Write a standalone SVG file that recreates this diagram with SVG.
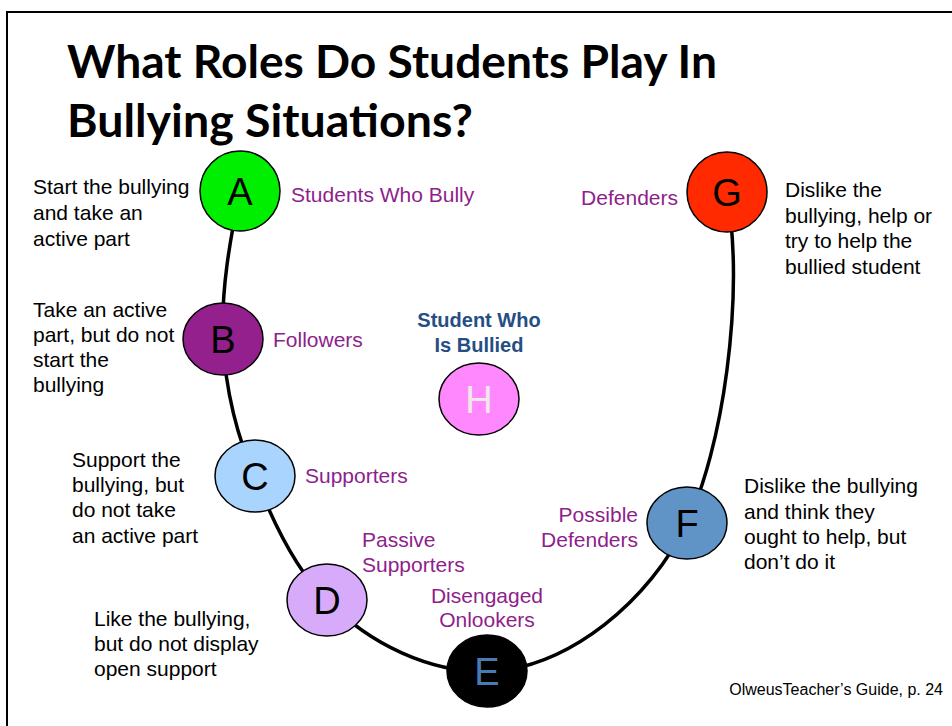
<svg xmlns="http://www.w3.org/2000/svg" width="952" height="726" viewBox="0 0 952 726">
<style>
.title{font-family:Lato,"Open Sans","Liberation Sans",sans-serif;font-weight:700;font-size:46px;fill:#000}
.desc{font-family:"Liberation Sans",Arial,sans-serif;font-size:21px;fill:#000}
.role{font-family:"Liberation Sans",Arial,sans-serif;font-size:21px;fill:#8E1E8C}
.letter{font-family:"Liberation Sans",Arial,sans-serif;font-size:38px;text-anchor:middle}
.node{stroke:#000;stroke-width:1.5}
.conn{fill:none;stroke:#000;stroke-width:3.5}
</style>
<rect x="0" y="0" width="952" height="726" fill="#fff"/>
<path d="M7 726 V12 H952" fill="none" stroke="#000" stroke-width="2"/>
<text class="title" x="67" y="78" textLength="650" lengthAdjust="spacingAndGlyphs">What Roles Do Students Play In</text>
<text class="title" x="67" y="137" textLength="406" lengthAdjust="spacingAndGlyphs">Bullying Situations?</text>
<g id="connectors">
<path class="conn" d="M240 191 C230 240 221 290 223 339 C225 390 238 440 255 476 C272 520 295 570 327 600 C370 645 430 672 487 672 C570 668 650 600 687 523 C722 450 745 300 727 192"/>
</g>
<g id="A">
<circle class="node" cx="240" cy="191" r="40" fill="#00EE00"/>
<text class="letter" x="240" y="205">A</text>
<text class="role" x="291" y="202">Students Who Bully</text>
<text class="desc" x="33" y="194">Start the bullying</text>
<text class="desc" x="33" y="220">and take an</text>
<text class="desc" x="33" y="246">active part</text>
</g>
<g id="B">
<ellipse class="node" cx="223" cy="339" rx="40" ry="36" fill="#93208C"/>
<text class="letter" x="223" y="353">B</text>
<text class="role" x="273" y="347">Followers</text>
<text class="desc" x="33" y="317">Take an active</text>
<text class="desc" x="33" y="342">part, but do not</text>
<text class="desc" x="33" y="367">start the</text>
<text class="desc" x="33" y="392">bullying</text>
</g>
<g id="C">
<ellipse class="node" cx="255" cy="476" rx="40" ry="36" fill="#A9D4FE"/>
<text class="letter" x="255" y="490">C</text>
<text class="role" x="305" y="483">Supporters</text>
<text class="desc" x="72" y="467">Support the</text>
<text class="desc" x="72" y="492">bullying, but</text>
<text class="desc" x="72" y="517">do not take</text>
<text class="desc" x="72" y="543">an active part</text>
</g>
<g id="D">
<ellipse class="node" cx="327" cy="600" rx="40" ry="36" fill="#D8ABFA"/>
<text class="letter" x="327" y="614">D</text>
<text class="role" x="362" y="547">Passive</text>
<text class="role" x="362" y="572">Supporters</text>
<text class="desc" x="94" y="626">Like the bullying,</text>
<text class="desc" x="94" y="651">but do not display</text>
<text class="desc" x="94" y="676">open support</text>
</g>
<g id="E">
<ellipse class="node" cx="487" cy="671" rx="40" ry="36" fill="#000"/>
<text class="letter" x="487" y="685" fill="#4A7AB6">E</text>
<text class="role" x="487" y="603" text-anchor="middle">Disengaged</text>
<text class="role" x="487" y="627" text-anchor="middle">Onlookers</text>
</g>
<g id="F">
<ellipse class="node" cx="687" cy="523" rx="40" ry="36" fill="#6194C6"/>
<text class="letter" x="687" y="537">F</text>
<text class="role" x="638" y="522" text-anchor="end">Possible</text>
<text class="role" x="638" y="547" text-anchor="end">Defenders</text>
<text class="desc" x="744" y="493">Dislike the bullying</text>
<text class="desc" x="744" y="519">and think they</text>
<text class="desc" x="744" y="544">ought to help, but</text>
<text class="desc" x="744" y="569">don’t do it</text>
</g>
<g id="G">
<circle class="node" cx="727" cy="192" r="40" fill="#FF2A00"/>
<text class="letter" x="727" y="206">G</text>
<text class="role" x="678" y="205" text-anchor="end">Defenders</text>
<text class="desc" x="785" y="197">Dislike the</text>
<text class="desc" x="785" y="223">bullying, help or</text>
<text class="desc" x="785" y="248">try to help the</text>
<text class="desc" x="785" y="274">bullied student</text>
</g>
<g id="H">
<ellipse class="node" cx="479" cy="399" rx="40" ry="36" fill="#FF88FF"/>
<text class="letter" x="479" y="413" fill="#EEE8E8">H</text>
<text x="479" y="327" text-anchor="middle" font-family="Liberation Sans, Arial, sans-serif" font-weight="700" font-size="20px" fill="#254E85">Student Who</text>
<text x="479" y="352" text-anchor="middle" font-family="Liberation Sans, Arial, sans-serif" font-weight="700" font-size="20px" fill="#254E85">Is Bullied</text>
</g>
<text x="943" y="695" text-anchor="end" font-family="Liberation Sans, Arial, sans-serif" font-size="16px" fill="#000">OlweusTeacher’s Guide, p. 24</text>
</svg>
